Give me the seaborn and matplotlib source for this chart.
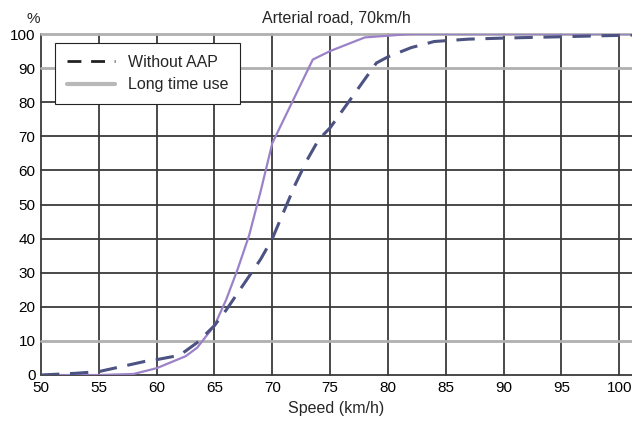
import matplotlib
matplotlib.use("Agg")
import matplotlib.pyplot as plt
from matplotlib.lines import Line2D
import seaborn as sns
import pandas as pd

# speed (km/h) and cumulative share (%)
speed_without = [50, 53, 55, 57, 59, 60, 62, 63.5, 65, 66, 67, 68, 69, 70, 71, 72, 73, 74, 75, 77, 79, 80, 82, 84, 87, 90, 95, 100, 101.2]
pct_without = [0, 0.5, 1, 2.5, 4, 4.5, 5.8, 9.5, 14.5, 19, 24, 29, 34, 40, 48, 56, 63, 69, 72.5, 82, 91.5, 93.3, 96, 97.8, 98.5, 98.8, 99.2, 99.6, 99.7]

speed_long = [50, 55, 58, 60, 62.5, 63.5, 65, 66, 67, 68, 69, 70, 73.5, 75, 78, 82, 90, 100, 101.2]
pct_long = [0, 0, 0.3, 2, 5.5, 8, 14.5, 22, 31, 41, 54, 68, 92.5, 95, 99, 100, 100, 100, 100]

df = pd.concat([
    pd.DataFrame({"speed": speed_without, "pct": pct_without, "series": "Without AAP"}),
    pd.DataFrame({"speed": speed_long, "pct": pct_long, "series": "Long time use"}),
])

sns.set_style("white")
plt.rcParams["font.family"] = ["Liberation Sans", "DejaVu Sans"]

fig = plt.figure(figsize=(6.32, 4.26), dpi=100)
ax = fig.add_axes([41 / 632, 1 - 375 / 426, 1 - 41 / 632, (375 - 34) / 426])

sns.lineplot(data=df[df.series == "Long time use"], x="speed", y="pct", ax=ax,
             color="#9b82c8", lw=1.6, legend=False)
sns.lineplot(data=df[df.series == "Without AAP"], x="speed", y="pct", ax=ax,
             color="#4c5282", lw=2.2, legend=False)
ax.lines[-1].set_dashes((6, 3.5))

ax.set_xlim(50, 101.1)
ax.set_ylim(0, 100)
ax.set_xticks(range(50, 101, 5))
ax.set_yticks(range(0, 101, 10))
ax.tick_params(labelsize=11, length=0, pad=4, colors="black")

ax.grid(True, color="#3a3a3a", lw=1.3)
ax.set_axisbelow(True)
for i, gl in enumerate(ax.get_ygridlines()):
    if i in (1, 9, 10):
        gl.set_color("#b0b0b0")
        gl.set_linewidth(2.0)
    gl.set_clip_on(False)
for gl in ax.get_xgridlines():
    gl.set_clip_on(False)

for s in ["top", "right", "bottom", "left"]:
    ax.spines[s].set_visible(False)

ax.set_xlabel("Speed (km/h)", fontsize=11.5, labelpad=5)
ax.set_ylabel("")
ax.set_title("Arterial road, 70km/h", fontsize=11.5, pad=8)
fig.text(33 / 632, 1 - 19 / 426, "%", fontsize=11, ha="center", va="center")

handles = [
    Line2D([], [], color="#222222", lw=2, dashes=(5, 3.5)),
    Line2D([], [], color="#b8b8b8", lw=3),
]
leg = ax.legend(handles, ["Without AAP", "Long time use"], loc="upper left",
                bbox_to_anchor=(14 / 591, 1 - 9 / 341), borderaxespad=0,
                fontsize=11.5, frameon=True, fancybox=False, framealpha=1,
                edgecolor="#222222", borderpad=0.75, handlelength=3,
                labelspacing=0.45, handletextpad=0.8)
leg.get_frame().set_linewidth(0.8)

fig.savefig("out.png", dpi=100)
